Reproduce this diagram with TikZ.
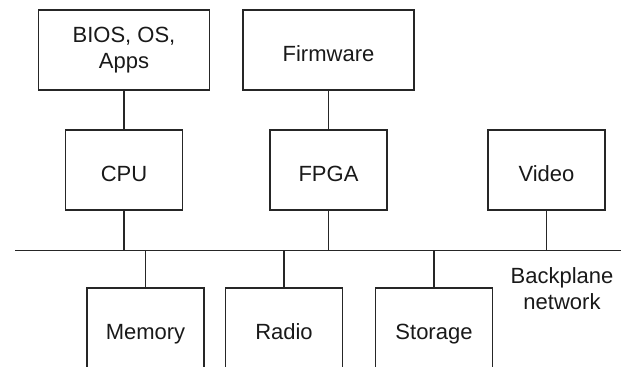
\documentclass[tikz,border=0pt]{standalone}
\usepackage{fontspec}
\setmainfont{Liberation Sans}
\usepackage{tikz}
\usetikzlibrary{positioning}

\begin{document}
\begin{tikzpicture}[x=0.5pt, y=-0.5pt]
			\tikzstyle{Box}		= [rectangle, draw, black!85, line width=0.65pt, text=black!90, align=center, inner sep=0pt, font=\fontsize{11pt}{12.9pt}\selectfont]
			\tikzstyle{Top}		= [Box, minimum width=85.5pt, minimum height=40pt]
			\tikzstyle{Unit}	= [Box, minimum width=58.5pt, minimum height=40pt, text height=12pt, text depth=0.6pt]
			\tikzstyle{Link}	= [black!85, line width=0.65pt]

			\useasboundingbox (0,0) rectangle (622,366);
			\clip (0,0) rectangle (622,366);

			% software layers
			\node (bios) at (124, 50) [Top] {BIOS, OS,\\Apps};
			\node (firmware) at (328.5, 50) [Top, text height=12pt, text depth=0.6pt] {Firmware};
			\foreach \n/\x/\t in {cpu/124/CPU, fpga/328.5/FPGA, video/546.5/Video}
				\node (\n) at (\x, 170) [Unit] {\t};
			\foreach \n/\x/\t in {memory/145.5/Memory, radio/284/Radio, storage/434/Storage}
				\node (\n) at (\x, 328) [Unit] {\t};

			% backplane
			\coordinate (busL) at (15, 250.5);
			\coordinate (busR) at (621, 250.5);
			\draw [Link] (busL) -- (busR);
			\node (bus) at (562, 289) [align=center, text=black!90, font=\fontsize{11pt}{12.9pt}\selectfont] {Backplane\\network};

			\foreach \a/\b in {bios/cpu, firmware/fpga}
				\draw [Link] (\a) -- (\b);
			\foreach \n in {cpu, fpga, video}
				\draw [Link] (\n.south) -- (\n.south |- busL);
			\foreach \n in {memory, radio, storage}
				\draw [Link] (\n.north) -- (\n.north |- busL);
		\end{tikzpicture}
\end{document}
